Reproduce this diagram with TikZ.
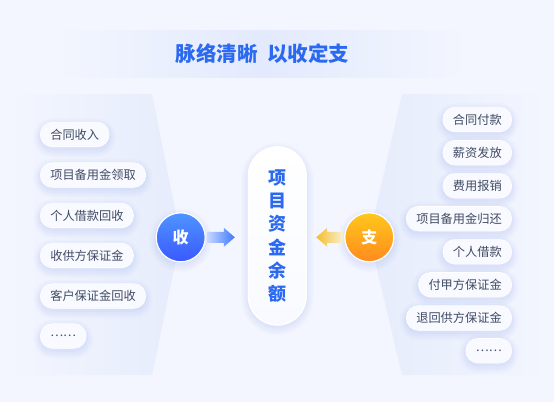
\documentclass[tikz,border=0pt]{standalone}
\usepackage{fontspec}
\newfontfamily\cjk{Noto Sans CJK SC}
\usetikzlibrary{calc}
\definecolor{bgc}{HTML}{F3F6FE}
\definecolor{panelc}{HTML}{E6ECFC}
\definecolor{bandc}{HTML}{E3EAFD}
\definecolor{titleblue}{HTML}{2B6AF0}
\definecolor{pilltext}{HTML}{404B63}
\definecolor{pillfill}{HTML}{F8FAFF}
\definecolor{shadowc}{HTML}{8FA5F2}
\definecolor{blueTop}{HTML}{4F95FF}
\definecolor{blueBot}{HTML}{3A58FF}
\definecolor{orangeTop}{HTML}{FFC81C}
\definecolor{orangeBot}{HTML}{FF8A1E}
\definecolor{arrowBlue}{HTML}{3C78FF}
\definecolor{arrowBlueL}{HTML}{C7D7FF}
\definecolor{arrowGold}{HTML}{F2BE2E}
\definecolor{arrowGoldL}{HTML}{FAEFCF}
\tikzset{
  softshadow/.style={
    preaction={draw=shadowc, line width=14pt, draw opacity=0.04, transform canvas={yshift=-3pt}},
    preaction={draw=shadowc, line width=10pt, draw opacity=0.05, transform canvas={yshift=-3pt}},
    preaction={draw=shadowc, line width=6pt, draw opacity=0.06, transform canvas={yshift=-3pt}},
    preaction={draw=shadowc, line width=3pt, draw opacity=0.07, transform canvas={yshift=-2pt}}},
  pill/.style={softshadow, draw=white, line width=0.6pt, fill=pillfill, rounded corners=12pt,
    minimum height=24.5pt, inner xsep=10pt, inner ysep=0pt,
    font=\cjk\fontsize{12.2}{14}\selectfont, text=pilltext},
  lpill/.style={pill, anchor=west},
  rpill/.style={pill, anchor=east},
  badge/.style={softshadow, circle, minimum size=49pt, inner sep=0pt, draw=white, line width=1.2pt,
    font=\cjk\bfseries\fontsize{16}{18}\selectfont, text=white},
}
\begin{document}
\begin{tikzpicture}[x=1pt,y=-1pt]
\fill[bgc] (0,0) rectangle (554,402);
\useasboundingbox (0,0) rectangle (554,402);
% title band
\shade[left color=bgc, right color=bgc, middle color=bandc] (55,30) rectangle (470,77);
\node[font=\cjk\bfseries\fontsize{20.5}{24}\selectfont, text=titleblue] (title) at (262.5,54) {脉络清晰\hspace{0.45em}以收定支};
% side panels
\shade[left color=bgc, right color=panelc] (8,94) -- (152,94) -- (180.7,237.3) -- (152,375) -- (8,375) -- cycle;
\shade[left color=panelc, right color=bgc] (402,94) -- (369.3,237.3) -- (402,375) -- (548,375) -- (548,94) -- cycle;
% left pills
\node[lpill] (l1) at (40,134.5) {合同收入};
\node[lpill] (l2) at (40,175) {项目备用金领取};
\node[lpill] (l3) at (40,215.5) {个人借款回收};
\node[lpill] (l4) at (40,255.5) {收供方保证金};
\node[lpill] (l5) at (40,296) {客户保证金回收};
\node[lpill] (l6) at (40,336) {……};
% right pills
\node[rpill] (r1) at (512,119.5) {合同付款};
\node[rpill] (r2) at (512,152.7) {薪资发放};
\node[rpill] (r3) at (512,185.8) {费用报销};
\node[rpill] (r4) at (512,218.7) {项目备用金归还};
\node[rpill] (r5) at (512,251.8) {个人借款};
\node[rpill] (r6) at (512,284.7) {付甲方保证金};
\node[rpill] (r7) at (512,318) {退回供方保证金};
\node[rpill] (r8) at (512,350.7) {……};
% center
\node[softshadow, draw=white, line width=1.5pt, rounded corners=29pt, minimum width=58pt, minimum height=178pt,
  top color=white, bottom color=pillfill, inner sep=0pt, align=center,
  font=\cjk\bfseries\fontsize{18}{23.3}\selectfont, text=titleblue]
  (center) at (277.3,235.9) {项\\目\\资\\金\\余\\额};
% badges
\node[badge, top color=blueTop, bottom color=blueBot] (shou) at (180.7,237.3) {收};
\node[badge, top color=orangeTop, bottom color=orangeBot] (zhi) at (369.3,237.3) {支};
% arrows
\shade[left color=arrowBlueL, right color=arrowBlue]
  ($(shou.east)+(1.5,-5.5)$) -- ++(16.5,0) -- ++(0,-4) -- ++(11,9.5) -- ++(-11,9.5) -- ++(0,-4) -- ++(-16.5,0) -- cycle;
\shade[left color=arrowGold, right color=arrowGoldL]
  ($(zhi.west)+(-1.5,-5.5)$) -- ++(-15.5,0) -- ++(0,-4) -- ++(-11,9.5) -- ++(11,9.5) -- ++(0,-4) -- ++(15.5,0) -- cycle;
\end{tikzpicture}
\end{document}
